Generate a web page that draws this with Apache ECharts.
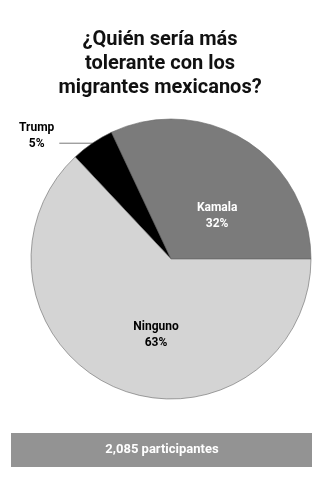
<!DOCTYPE html>
<html>
<head>
<meta charset="utf-8">
<script src="https://cdn.jsdelivr.net/npm/echarts@6/dist/echarts.min.js"></script>
<style>html,body{margin:0;padding:0;background:#fff;}#c{width:329px;height:480px;}</style>
</head>
<body>
<div id="c"></div>
<script>
var categories = ['Kamala', 'Trump', 'Ninguno'];
var values = [32, 5, 63];
var colors = ['#7b7b7b', '#000000', '#d4d4d4'];
var labelColors = ['#ffffff', '#000000', '#000000'];
var titleText = '¿Quién sería más\ntolerante con los\nmigrantes mexicanos?';
var footerText = '2,085 participantes';

var chart = echarts.init(document.getElementById('c'), null, {renderer: 'canvas'});
var data = categories.map(function (c, i) {
  return {
    name: c,
    value: values[i],
    itemStyle: {color: colors[i]},
    label: {
      position: i === 1 ? 'outside' : 'inside',
      color: labelColors[i],
      padding: i === 1 ? [0, 0, 14, 0] : 0
    },
    labelLine: {show: i === 1}
  };
});
chart.setOption({
  animation: false,
  title: {
    text: titleText,
    left: 160,
    textAlign: 'center',
    top: 28,
    padding: 0,
    textStyle: {
      fontFamily: 'Roboto',
      fontWeight: 'bold',
      fontSize: 20,
      lineHeight: 24,
      color: '#111'
    }
  },
  series: [{
    type: 'pie',
    center: [171, 259],
    radius: [0, 140],
    startAngle: 0,
    clockwise: false,
    silent: true,
    itemStyle: {borderColor: '#666', borderWidth: 0.6},
    label: {
      formatter: function (p) { return '{t|' + p.name + '}\n{t|' + p.value + '%}'; },
      fontFamily: 'Roboto',
      fontSize: 12,
      fontWeight: 'bold',
      rich: {t: {align: 'center', fontFamily: 'Roboto', fontSize: 12, fontWeight: 'bold', lineHeight: 16}}
    },
    labelLine: {length: 0, length2: 33, lineStyle: {color: '#555', width: 0.8}},
    labelLayout: function (p) {
      if (p.dataIndex === 0) return {dx: 7, dy: 19};
      if (p.dataIndex === 2) return {dx: 14, dy: 9};
      return {};
    },
    data: data
  }],
  graphic: [{
    type: 'rect',
    shape: {x: 11, y: 433, width: 301, height: 34},
    style: {fill: '#939393'}
  }, {
    type: 'text',
    x: 162,
    y: 450,
    style: {
      text: footerText,
      fill: '#ffffff',
      font: 'bold 13px Roboto',
      textAlign: 'center',
      textVerticalAlign: 'middle'
    }
  }]
});
</script>
</body>
</html>
